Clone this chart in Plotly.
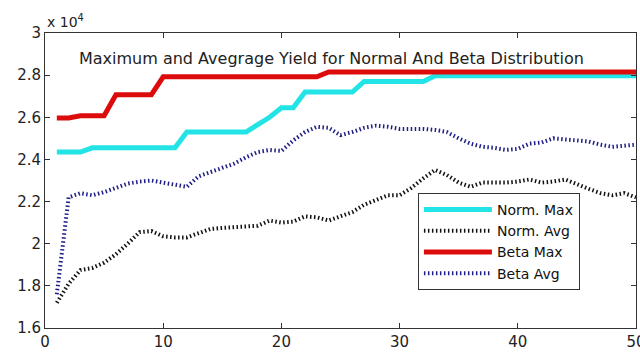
import plotly.graph_objects as go

generation = list(range(1, 51))

norm_max = [2.435, 2.435, 2.435, 2.455, 2.455, 2.455, 2.455, 2.455, 2.455, 2.455,
            2.455, 2.53, 2.53, 2.53, 2.53, 2.53, 2.53, 2.565, 2.60, 2.645,
            2.645, 2.72, 2.72, 2.72, 2.72, 2.72, 2.77, 2.77, 2.77, 2.77,
            2.77, 2.77, 2.797, 2.797, 2.797, 2.797, 2.797, 2.797, 2.797, 2.797,
            2.797, 2.797, 2.797, 2.797, 2.797, 2.797, 2.797, 2.797, 2.797, 2.797]

norm_avg = [1.72, 1.81, 1.875, 1.885, 1.91, 1.95, 2.00, 2.055, 2.06, 2.035,
            2.03, 2.03, 2.05, 2.07, 2.075, 2.078, 2.085, 2.085, 2.11, 2.10,
            2.105, 2.13, 2.125, 2.11, 2.13, 2.15, 2.185, 2.21, 2.23, 2.23,
            2.265, 2.31, 2.35, 2.326, 2.29, 2.27, 2.29, 2.29, 2.29, 2.295,
            2.305, 2.29, 2.295, 2.305, 2.28, 2.26, 2.24, 2.23, 2.24, 2.22]

beta_max = [2.597, 2.597, 2.607, 2.607, 2.607, 2.707, 2.707, 2.707, 2.707, 2.792,
            2.792, 2.792, 2.792, 2.792, 2.792, 2.792, 2.792, 2.792, 2.792, 2.792,
            2.792, 2.792, 2.792, 2.815, 2.815, 2.815, 2.815, 2.815, 2.815, 2.815,
            2.815, 2.815, 2.815, 2.815, 2.815, 2.815, 2.815, 2.815, 2.815, 2.815,
            2.815, 2.815, 2.815, 2.815, 2.815, 2.815, 2.815, 2.815, 2.815, 2.815]

beta_avg = [1.76, 2.22, 2.24, 2.23, 2.245, 2.265, 2.285, 2.295, 2.30, 2.29,
            2.28, 2.27, 2.32, 2.34, 2.355, 2.38, 2.41, 2.435, 2.445, 2.44,
            2.49, 2.53, 2.555, 2.55, 2.515, 2.53, 2.55, 2.56, 2.555, 2.545,
            2.545, 2.545, 2.54, 2.53, 2.50, 2.475, 2.46, 2.455, 2.445, 2.45,
            2.475, 2.48, 2.50, 2.495, 2.49, 2.485, 2.47, 2.46, 2.465, 2.47]

x_ticks = [0, 10, 20, 30, 40, 50]
y_ticks = [1.6, 1.8, 2.0, 2.2, 2.4, 2.6, 2.8, 3.0]
y_tick_text = ["1.6", "1.8", "2", "2.2", "2.4", "2.6", "2.8", "3"]

FONT = "DejaVu Sans"
dotdash = "1.5px,2.5px"

fig = go.Figure()
fig.add_trace(go.Scatter(x=generation, y=norm_max, mode="lines", name="Norm. Max",
                         line=dict(color="#22e3e6", width=5)))
fig.add_trace(go.Scatter(x=generation, y=norm_avg, mode="lines", name="Norm. Avg",
                         line=dict(color="#111111", width=4, dash=dotdash)))
fig.add_trace(go.Scatter(x=generation, y=beta_max, mode="lines", name="Beta Max",
                         line=dict(color="#dc0c0c", width=5)))
fig.add_trace(go.Scatter(x=generation, y=beta_avg, mode="lines", name="Beta Avg",
                         line=dict(color="#1e1e86", width=4, dash=dotdash)))

axis_common = dict(showline=True, linecolor="#333333", linewidth=1, mirror="ticks",
                   ticks="inside", ticklen=5, tickcolor="#333333", showgrid=False,
                   zeroline=False, ticklabeloverflow="allow", automargin=False,
                   tickfont=dict(family=FONT, size=15, color="#222222"))

fig.update_xaxes(range=[0, 50], tickvals=x_ticks, **axis_common)
fig.update_yaxes(range=[1.6, 3.0], tickvals=y_ticks, ticktext=y_tick_text, **axis_common)

fig.update_layout(
    width=640, height=353,
    margin=dict(l=45, r=4, t=33, b=25),
    paper_bgcolor="white", plot_bgcolor="white",
    showlegend=True,
    legend=dict(x=0.631, y=0.129, xanchor="left", yanchor="bottom",
                bgcolor="white", bordercolor="#333333", borderwidth=1,
                font=dict(family=FONT, size=14, color="#111111"),
                itemwidth=68, tracegroupgap=0),
    annotations=[
        dict(text="Maximum and Avegrage Yield for Normal And Beta Distribution",
             xref="paper", yref="paper", x=0.484, y=0.915, xanchor="center",
             yanchor="middle", showarrow=False,
             font=dict(family=FONT, size=16, color="#222222")),
        dict(text="x 10<sup>4</sup>", xref="paper", yref="paper", x=0.0, y=1.0,
             xanchor="left", yanchor="bottom", yshift=1, showarrow=False,
             font=dict(family=FONT, size=14, color="#222222")),
    ],
)

fig.write_html("out.html")
